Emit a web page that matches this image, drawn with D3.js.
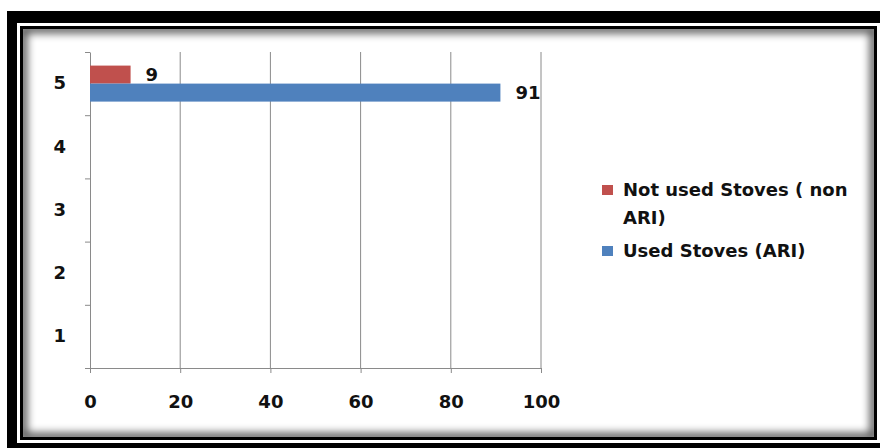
<!DOCTYPE html>
<html>
<head>
<meta charset="utf-8">
<script src="https://cdn.jsdelivr.net/npm/d3@7"></script>
<style>
  html, body { margin: 0; padding: 0; background: #fff; }
  svg { display: block; }
  text { font-family: "DejaVu Sans", sans-serif; font-weight: 700; fill: #111; }
</style>
</head>
<body>
<svg id="chart" width="880" height="448"></svg>
<script>
// ---- data ----
const categories = ["1", "2", "3", "4", "5"];
const seriesNames = ["Not used Stoves ( non ARI)", "Used Stoves (ARI)"];
const notUsedValues = [null, null, null, null, 9];
const usedValues = [null, null, null, null, 91];
const xTickValues = [0, 20, 40, 60, 80, 100];
const seriesColors = ["#C0504D", "#4F81BD"];

const FONT = "'DejaVu Sans', sans-serif";
const FS = 18;

const svg = d3.select("#chart");

// ---- frame ----
const defs = svg.append("defs");
defs.append("clipPath").attr("id", "inner")
  .append("rect").attr("x", 23).attr("y", 29).attr("width", 851).attr("height", 408);
const blur = defs.append("filter").attr("id", "blur")
  .attr("x", "-10%").attr("y", "-10%").attr("width", "120%").attr("height", "120%");
blur.append("feGaussianBlur").attr("stdDeviation", 4.5);

svg.append("rect").attr("x", 7).attr("y", 11).attr("width", 900).attr("height", 460).attr("fill", "#000");
svg.append("rect").attr("x", 17).attr("y", 23).attr("width", 880).attr("height", 420).attr("fill", "#fff");
svg.append("rect").attr("x", 20).attr("y", 26).attr("width", 857).attr("height", 414).attr("fill", "#000");
svg.append("rect").attr("x", 23).attr("y", 29).attr("width", 851).attr("height", 408).attr("fill", "#fff");
svg.append("g").attr("clip-path", "url(#inner)")
  .append("rect").attr("x", 23).attr("y", 29).attr("width", 851).attr("height", 408)
  .attr("fill", "none").attr("stroke", "#000").attr("stroke-opacity", 0.7)
  .attr("stroke-width", 8).attr("filter", "url(#blur)");

// ---- scales ----
const x = d3.scaleLinear().domain([0, 100]).range([90, 541]);
const yBand = d3.scaleBand().domain(categories.slice().reverse()).range([52, 368]).paddingInner(0).paddingOuter(0);
const yLin = d3.scaleLinear().domain([0, categories.length]).range([368, 52]);
const ySub = d3.scaleBand().domain(seriesNames).range([0, yBand.bandwidth()]).paddingInner(0).paddingOuter(0.755);

const gridColor = "#8a8a8a";

// gridlines
svg.append("g").selectAll("line").data(xTickValues.filter(d => d > 0)).join("line")
  .attr("x1", d => x(d)).attr("x2", d => x(d))
  .attr("y1", 52).attr("y2", 368)
  .attr("stroke", gridColor).attr("stroke-width", 1);

// x axis
const xAxis = svg.append("g").attr("transform", "translate(0,368)")
  .call(d3.axisBottom(x).tickValues(xTickValues).tickSize(5).tickSizeOuter(0).tickPadding(22));
xAxis.select(".domain").attr("stroke", gridColor);
xAxis.selectAll(".tick line").attr("stroke", gridColor);
xAxis.selectAll("text").attr("font-size", FS).attr("fill", "#111")
  .attr("font-family", FONT).attr("font-weight", 700);

// y axis ticks (category boundaries)
const yTicks = svg.append("g").attr("transform", "translate(90,0)")
  .call(d3.axisLeft(yLin).tickValues(d3.range(0, categories.length + 1)).tickSize(5).tickSizeOuter(0).tickFormat(""));
yTicks.select(".domain").attr("stroke", gridColor);
yTicks.selectAll(".tick line").attr("stroke", gridColor);

// y axis labels
const yLabels = svg.append("g").attr("transform", "translate(90,0)")
  .call(d3.axisLeft(yBand).tickSize(0).tickPadding(24));
yLabels.select(".domain").remove();
yLabels.selectAll("text").attr("font-size", FS).attr("fill", "#111")
  .attr("font-family", FONT).attr("font-weight", 700);

// ---- bars ----
const seriesData = [notUsedValues, usedValues];
seriesData.forEach((vals, si) => {
  const pts = categories.map((c, i) => ({ c, v: vals[i] })).filter(d => d.v != null);
  const g = svg.append("g");
  g.selectAll("rect").data(pts).join("rect")
    .attr("x", x(0))
    .attr("y", d => yBand(d.c) + ySub(seriesNames[si]))
    .attr("width", d => x(d.v) - x(0))
    .attr("height", ySub.bandwidth())
    .attr("fill", seriesColors[si]);
  g.selectAll("text").data(pts).join("text")
    .attr("x", d => x(d.v) + 15)
    .attr("y", d => yBand(d.c) + ySub(seriesNames[si]) + ySub.bandwidth() / 2)
    .attr("dominant-baseline", "central")
    .attr("font-size", FS)
    .text(d => d.v);
});

// ---- legend ----
const legend = svg.append("g");
const legendItems = [
  { lines: ["Not used Stoves ( non", "ARI)"], color: seriesColors[0], y: 190 },
  { lines: ["Used Stoves (ARI)"], color: seriesColors[1], y: 251 }
];
legendItems.forEach(it => {
  legend.append("rect").attr("x", 602).attr("y", it.y - 5).attr("width", 11).attr("height", 10).attr("fill", it.color);
  it.lines.forEach((ln, li) => {
    legend.append("text").attr("x", 623).attr("y", it.y - 1 + li * 28)
      .attr("dominant-baseline", "central").attr("font-size", FS).text(ln);
  });
});
</script>
</body>
</html>
